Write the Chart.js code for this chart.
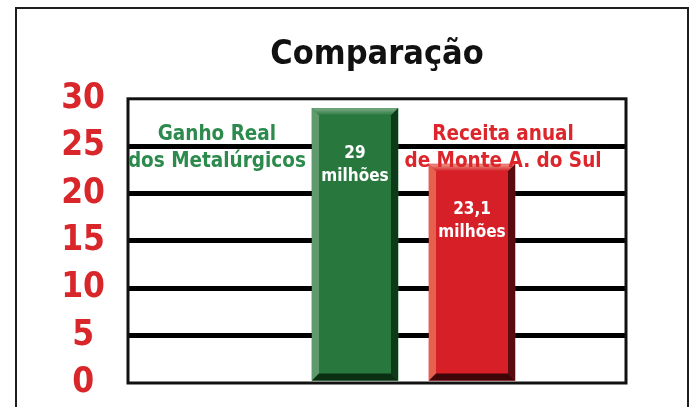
<!DOCTYPE html>
<html><head><meta charset="utf-8">
<script src="https://cdn.jsdelivr.net/npm/chart.js@4.4.1/dist/chart.umd.min.js"></script>
<style>
html,body{margin:0;padding:0;background:#fff;overflow:hidden;width:700px;height:407px;}
#frame{position:absolute;left:15px;top:7px;width:674px;height:440px;border:2px solid #1e1e1e;box-sizing:border-box;}
#c{position:absolute;left:0;top:0;}
</style></head><body>
<div id="frame"></div>
<canvas id="c" width="700" height="407"></canvas>
<script>
const chartTitle = 'Comparação';
const categories = [['Ganho Real', 'dos Metalúrgicos'], ['Receita anual', 'de Monte A. do Sul']];
const values = [29, 23.1];
const valueUnit = 'milhões';
const yTicks = [0, 5, 10, 15, 20, 25, 30];

const FONT = "'DejaVu Sans Condensed', 'Liberation Sans Narrow', 'Open Sans', sans-serif";
const barColors = ['#28783e', '#d71f28'];
const bevel = [
  {top: '#7fae8a', left: '#5e9a6c', right: '#0d3a18', bottom: '#0a2e12'},
  {top: '#ee9a88', left: '#e6604e', right: '#5a0b10', bottom: '#3e0609'}
];
const labelColors = ['#2c8a4c', '#dc262b'];

const decor = {
  id: 'decor',
  afterDatasetsDraw(chart, args, opts) {
    const ctx = chart.ctx;
    const meta = chart.getDatasetMeta(0);
    const xs = chart.scales.x, ys = chart.scales.y;
    const k = 7;
    const poly = (pts, fill) => {
      ctx.beginPath(); ctx.moveTo(pts[0][0], pts[0][1]);
      for (let j = 1; j < pts.length; j++) ctx.lineTo(pts[j][0], pts[j][1]);
      ctx.closePath(); ctx.fillStyle = fill; ctx.fill();
    };
    ctx.save();
    meta.data.forEach((bar, i) => {
      const p = bar.getProps(['x', 'y', 'base', 'width'], true);
      const l = p.x - p.width / 2, r = p.x + p.width / 2, t = p.y, b = p.base;
      const c = bevel[i];
      const g = ctx.createLinearGradient(0, t, 0, t + k);
      g.addColorStop(0, c.top); g.addColorStop(1, barColors[i]);
      poly([[l, t], [r, t], [r - k, t + k], [l + k, t + k]], g);
      poly([[l, t], [l + k, t + k], [l + k, b - k], [l, b]], c.left);
      poly([[r, t], [r, b], [r - k, b - k], [r - k, t + k]], c.right);
      poly([[l, b], [r, b], [r - k, b - k], [l + k, b - k]], c.bottom);
    });
    // plot frame
    const a = chart.chartArea;
    ctx.lineWidth = 3; ctx.strokeStyle = '#111';
    ctx.strokeRect(a.left, a.top, a.right - a.left, a.bottom - a.top);
    // value labels and category labels
    ctx.textAlign = 'center'; ctx.textBaseline = 'middle';
    meta.data.forEach((bar, i) => {
      const p = bar.getProps(['x', 'y'], true);
      ctx.fillStyle = '#fff';
      ctx.font = 'bold 17px ' + FONT;
      ctx.fillText(values[i].toLocaleString('pt-BR'), p.x, p.y + 45);
      ctx.fillText(valueUnit, p.x, p.y + 68);
      ctx.fillStyle = labelColors[i];
      ctx.font = 'bold 20.5px ' + FONT;
      const lx = xs.getPixelForValue(i + opts.labelDx[i]);
      const ly = ys.getPixelForValue(opts.labelY);
      categories[i].forEach((line, j) => ctx.fillText(line, lx, ly + j * 27));
    });
    ctx.restore();
  }
};

new Chart(document.getElementById('c'), {
  type: 'bar',
  data: {
    datasets: [{
      data: categories.map((c, i) => ({x: i, y: values[i]})),
      backgroundColor: barColors,
      borderWidth: 0,
      barThickness: 86
    }]
  },
  options: {
    responsive: false,
    animation: false,
    devicePixelRatio: 1,
    layout: {padding: {left: 0, right: 74, top: 35, bottom: 24}},
    plugins: {
      legend: {display: false},
      tooltip: {enabled: false},
      title: {
        display: true, text: chartTitle, fullSize: false, color: '#111',
        font: {family: FONT, size: 34, weight: 'bold', lineHeight: 1.2},
        padding: {top: 0, bottom: 23}
      },
      decor: {labelDx: [-1.18, 0.265], labelY: 26.2}
    },
    scales: {
      x: {type: 'linear', min: -1.94, max: 2.316, offset: false, display: false},
      y: {
        min: 0, max: 30,
        afterBuildTicks: s => { s.ticks = yTicks.map(v => ({value: v})); },
        afterFit: s => { s.width = 128; },
        ticks: {color: '#d8262b', font: {family: FONT, size: 35, weight: 'bold'}, crossAlign: 'center', padding: 0, autoSkip: false},
        grid: {
          drawTicks: true,
          tickLength: 23,
          tickColor: 'rgba(0,0,0,0)',
          color: ctx => (ctx.tick && (ctx.tick.value === 0 || ctx.tick.value === 30)) ? 'rgba(0,0,0,0)' : '#000',
          lineWidth: 5
        },
        border: {display: false}
      }
    }
  },
  plugins: [decor]
});
</script>
</body></html>
